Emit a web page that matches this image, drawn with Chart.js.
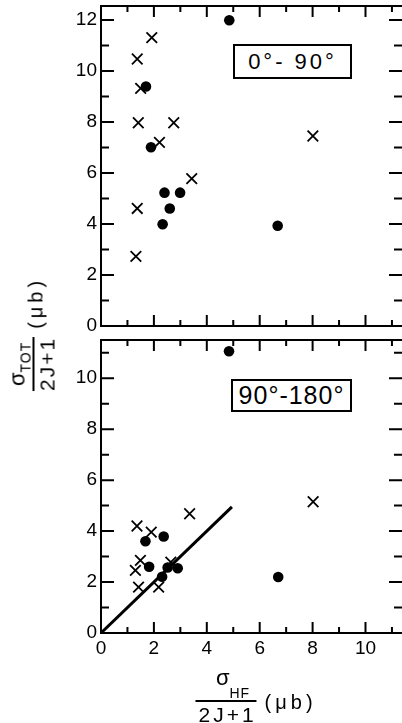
<!DOCTYPE html>
<html>
<head>
<meta charset="utf-8">
<script src="https://cdn.jsdelivr.net/npm/chart.js@4/dist/chart.umd.min.js"></script>
<style>
  html, body { margin:0; padding:0; background:#fff; overflow:hidden; }
  body { width:402px; height:723px; position:relative; font-family:"Liberation Sans", Arial, sans-serif; color:#000; }
  canvas { position:absolute; left:0; }
  #c1 { top:0; }
  #c2 { top:334px; }
  .box { position:absolute; border:2px solid #000; box-sizing:border-box; background:#fff;
         display:flex; align-items:center; justify-content:center; white-space:nowrap; }
  .anchor { position:absolute; width:0; height:0; }
  .title { position:absolute; left:0; top:0; display:flex; align-items:center; white-space:nowrap; }
  .frac { display:flex; flex-direction:column; align-items:center; }
  .num { line-height:1; white-space:nowrap; }
  .den { border-top:2px solid #000; line-height:1; padding-top:2px; font-size:21px; }
  .sig { font-size:22px; }
  .sub { font-size:14px; letter-spacing:1px; }
  .unit { font-size:20px; letter-spacing:4px; position:relative; margin-left:8px; }
</style>
</head>
<body>
<canvas id="c1" width="402" height="336"></canvas>
<canvas id="c2" width="402" height="389"></canvas>

<div class="box" style="left:233px; top:44px; width:119px; height:35px; font-size:22px; letter-spacing:3px;">0°- 90°</div>
<div class="box" style="left:231px; top:379px; width:121px; height:33px; font-size:25px; letter-spacing:1px;">90°-180°</div>

<div class="anchor" style="left:32px; top:334px;">
  <div class="title" style="transform: translate(-50%,-50%) rotate(-90deg);">
    <div class="frac">
      <div class="num"><span class="sig">σ</span><span class="sub" style="vertical-align:-6px;">TOT</span></div>
      <div class="den" style="letter-spacing:2px;">2J+1</div>
    </div>
    <span class="unit" style="top:4px;">(μb)</span>
  </div>
</div>

<div class="anchor" style="left:256px; top:696px;">
  <div class="title" style="transform: translate(-50%,-50%);">
    <div class="frac">
      <div class="num" style="padding-left:14px;"><span class="sig">σ</span><span class="sub" style="vertical-align:-13px;">HF</span></div>
      <div class="den" style="letter-spacing:3px; padding-left:3px;">2J+1</div>
    </div>
    <span class="unit" style="top:6px;">(μb)</span>
  </div>
</div>

<script>
// ---- Data ----
// Panel 1: 0°-90°
const topCrossX = [1.32, 1.37, 1.41, 1.37, 1.92, 1.50, 2.21, 2.75, 3.43, 8.01];
const topCrossY = [2.73, 4.61, 7.97, 10.47, 11.31, 9.32, 7.20, 7.97, 5.78, 7.45];
const topDotX   = [4.85, 1.70, 1.89, 2.40, 2.99, 2.60, 2.33, 6.68];
const topDotY   = [11.99, 9.39, 7.01, 5.23, 5.23, 4.61, 3.99, 3.93];

// Panel 2: 90°-180°
const botCrossX = [1.36, 1.90, 3.35, 8.02, 1.49, 1.30, 1.42, 2.18, 2.64];
const botCrossY = [4.20, 3.96, 4.68, 5.15, 2.85, 2.46, 1.80, 1.80, 2.78];
const botDotX   = [4.84, 1.68, 2.37, 1.82, 2.31, 2.52, 2.90, 6.70];
const botDotY   = [11.06, 3.60, 3.79, 2.60, 2.21, 2.57, 2.54, 2.20];

// Reference line (sigma_TOT = sigma_HF)
const lineX = [0, 4.95];
const lineY = [0, 4.95];

// Tick labels
const xTickLabels    = [0, 2, 4, 6, 8, 10];
const yTickLabelsTop = [0, 2, 4, 6, 8, 10, 12];
const yTickLabelsBot = [0, 2, 4, 6, 8, 10];

const xMax = 11.38;
const yMaxTop = 12.55;
const yMaxBot = 11.5;

const pts = (xs, ys) => xs.map((x, i) => ({ x: x, y: ys[i] }));

const frameTicks = {
  id: 'frameTicks',
  afterDraw(chart) {
    const ctx = chart.ctx;
    const a = chart.chartArea;
    const x = chart.scales.x, y = chart.scales.y;
    ctx.save();
    ctx.strokeStyle = '#000';
    ctx.lineWidth = 2;
    ctx.beginPath();
    for (let v = 1; v <= 12; v++) {
      if (v > y.max) break;
      const py = y.getPixelForValue(v);
      const L = (v % 2 === 0) ? 13 : 8;
      ctx.moveTo(a.left, py); ctx.lineTo(a.left + L, py);
      ctx.moveTo(a.right, py); ctx.lineTo(a.right - L, py);
    }
    for (let v = 1; v <= 11; v++) {
      if (v > x.max) break;
      const px = x.getPixelForValue(v);
      const L = (v % 2 === 0) ? 11 : 6;
      ctx.moveTo(px, a.bottom); ctx.lineTo(px, a.bottom - L);
      ctx.moveTo(px, a.top); ctx.lineTo(px, a.top + L);
    }
    ctx.moveTo(a.left - 1, a.top); ctx.lineTo(a.right, a.top);
    ctx.stroke();
    ctx.restore();
  }
};

function makeChart(id, crossData, dotData, withLine, yMax, yTicks, showX, xAxisHeight) {
  const datasets = [
    { label: 'x', data: crossData, pointStyle: 'crossRot', pointRadius: 7.5, pointHoverRadius: 7.5,
      borderColor: '#000', backgroundColor: '#000', pointBorderWidth: 1.8, showLine: false },
    { label: 'dot', data: dotData, pointStyle: 'circle', pointRadius: 5.3, pointHoverRadius: 5.3,
      borderColor: '#000', backgroundColor: '#000', pointBorderWidth: 0, showLine: false }
  ];
  if (withLine) {
    datasets.unshift({ label: 'line', data: pts(lineX, lineY), showLine: true, borderColor: '#000',
      borderWidth: 3, pointRadius: 0, fill: false });
  }
  return new Chart(document.getElementById(id), {
    type: 'scatter',
    data: { datasets: datasets },
    options: {
      responsive: false, animation: false, devicePixelRatio: 1,
      layout: { autoPadding: false, padding: { top: 6, right: 0, left: 0, bottom: 0 } },
      plugins: { legend: { display: false }, tooltip: { enabled: false } },
      scales: {
        x: {
          type: 'linear', min: 0, max: xMax,
          grid: { display: false, drawTicks: false },
          border: { display: true, color: '#000', width: 2 },
          afterBuildTicks: s => { s.ticks = xTickLabels.map(v => ({ value: v })); },
          afterFit: s => { s.height = xAxisHeight; s.paddingLeft = 0; s.paddingRight = 0; },
          ticks: { display: showX, autoSkip: false, maxRotation: 0, color: '#000', padding: 4,
                   font: { family: 'Liberation Sans', size: 19 } }
        },
        y: {
          type: 'linear', min: 0, max: yMax,
          grid: { display: false, drawTicks: false },
          border: { display: true, color: '#000', width: 2 },
          afterBuildTicks: s => { s.ticks = yTicks.map(v => ({ value: v })); },
          afterFit: s => { s.width = 101; s.paddingTop = 0; s.paddingBottom = 0; },
          ticks: { autoSkip: false, color: '#000', padding: 4,
                   font: { family: 'Liberation Sans', size: 19 } }
        }
      }
    },
    plugins: [frameTicks]
  });
}

makeChart('c1', pts(topCrossX, topCrossY), pts(topDotX, topDotY), false, yMaxTop, yTickLabelsTop, false, 10);
makeChart('c2', pts(botCrossX, botCrossY), pts(botDotX, botDotY), true, yMaxBot, yTickLabelsBot, true, 90);
</script>
</body>
</html>
